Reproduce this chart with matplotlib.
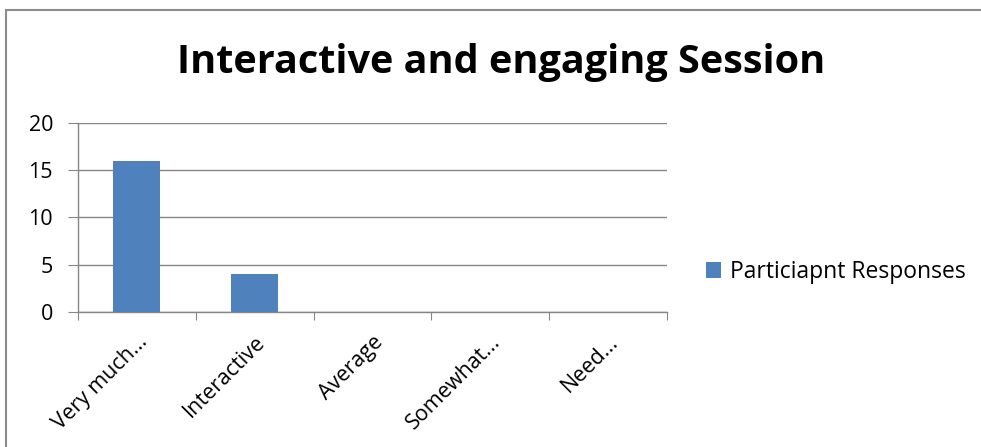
import matplotlib
matplotlib.use("Agg")
import matplotlib.pyplot as plt
from matplotlib.patches import Rectangle

categories = ["Very much...", "Interactive", "Average", "Somewhat...", "Need..."]
values = [16, 4, 0, 0, 0]
series_name = "Particiapnt Responses"
title = "Interactive and engaging Session"
yticks = [0, 5, 10, 15, 20]

plt.rcParams['font.family'] = ['Open Sans', 'DejaVu Sans']

W, H = 981, 447
fig = plt.figure(figsize=(W/100, H/100), dpi=100)
fig.patch.set_facecolor('white')

# outer chart border
fig.patches.append(Rectangle((6/W, -0.1), 1.2, 1 - 10/H + 0.1, transform=fig.transFigure,
                             fill=False, edgecolor='#8c8c8c', linewidth=1.5))

ax = fig.add_axes([78/W, 1 - 312/H, (667-78)/W, (312-123)/H])
x = list(range(len(categories)))
ax.bar(x, values, width=0.4, color='#4F81BD', label=series_name, zorder=3)
ax.set_xlim(-0.5, len(categories) - 0.5)
ax.set_ylim(0, 20)
ax.set_yticks(yticks)
ax.set_yticklabels([str(v) for v in yticks], fontsize=15.5)
ax.yaxis.grid(True, color='#868686', linewidth=1, zorder=0)
ax.set_axisbelow(True)

for s in ['top', 'right']:
    ax.spines[s].set_visible(False)
for s in ['left', 'bottom']:
    ax.spines[s].set_color('#868686')
    ax.spines[s].set_linewidth(1)

ax.set_xticks([i - 0.5 for i in range(len(categories) + 1)], minor=False)
ax.set_xticklabels([''] * (len(categories) + 1))
ax.tick_params(axis='x', which='major', length=6, color='#868686', direction='out')
ax.set_xticks(x, minor=True)
ax.set_xticklabels(categories, minor=True, rotation=45, ha='right', va='top',
                   rotation_mode='anchor', fontsize=15.5)
ax.tick_params(axis='x', which='minor', length=0, pad=14)
ax.tick_params(axis='y', length=7, color='#868686', direction='out', pad=11)

fig.text(501/W, 1 - 63/H, title, ha='center', va='center', fontsize=28.5, fontweight='bold')

handles, labels = ax.get_legend_handles_labels()
fig.legend(handles, labels, loc='center left', bbox_to_anchor=(706/W, 1 - 272/H),
           frameon=False, fontsize=16.5, handlelength=0.65, handleheight=0.65,
           handletextpad=0.4, borderpad=0, borderaxespad=0)

fig.savefig("out.png", dpi=100)
